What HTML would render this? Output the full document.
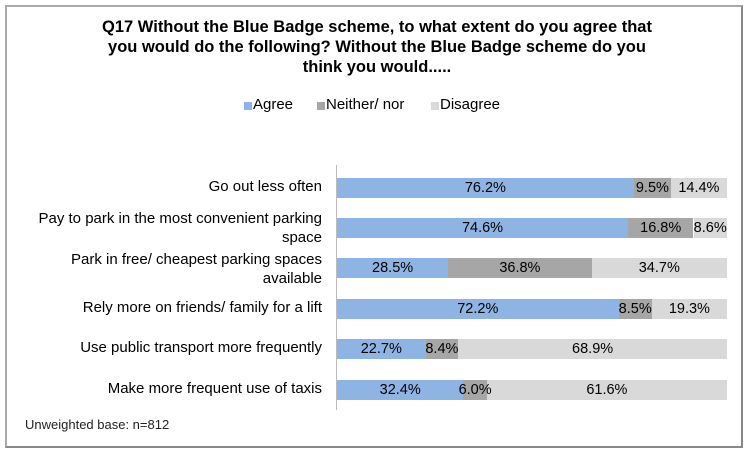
<!DOCTYPE html>
<html><head><style>
body{margin:0;width:754px;height:458px;background:#fff;font-family:"Liberation Sans",sans-serif;position:relative;overflow:hidden}
.box{position:absolute;left:5px;top:5px;width:738px;height:443px;border:2px solid #888;border-top-color:#aaa;border-left-color:#aaa;box-sizing:border-box}
.t{position:absolute;left:0;width:754px;text-align:center;font-weight:bold;font-size:16.5px;color:#000}
.lg{position:absolute;top:96px;font-size:15px}
.sq{position:absolute;width:8px;height:8px;top:102px}
.lab{position:absolute;right:432px;text-align:right;font-size:15px;line-height:19px;width:330px}
.seg{position:absolute;height:20px}
.v{position:absolute;height:20px;font-size:14.5px;line-height:20px;white-space:nowrap;transform:translateX(-50%)}
.a{background:#8eb4e3}.n{background:#a6a6a6}.d{background:#d9d9d9}
</style></head><body>
<div class="box"></div>
<div class="t" style="top:18px">Q17 Without the Blue Badge scheme, to what extent do you agree that</div>
<div class="t" style="top:38px">you would do the following? Without the Blue Badge scheme do you</div>
<div class="t" style="top:58px">think you would.....</div>
<div class="sq a" style="left:244px"></div><div class="lg" style="left:253px">Agree</div>
<div class="sq n" style="left:317px"></div><div class="lg" style="left:326px">Neither/ nor</div>
<div class="sq d" style="left:431px"></div><div class="lg" style="left:440px">Disagree</div>
<div style="position:absolute;left:336px;top:165px;width:1px;height:245px;background:#bbb"></div>
<div class="lab" style="top:177px">Go out less often</div>
<div class="lab" style="top:209px">Pay to park in the most convenient parking<br>space</div>
<div class="lab" style="top:250px">Park in free/ cheapest parking spaces<br>available</div>
<div class="lab" style="top:298px">Rely more on friends/ family for a lift</div>
<div class="lab" style="top:338px">Use public transport more frequently</div>
<div class="lab" style="top:379px">Make more frequent use of taxis</div>
<div id="bars"></div>
<div style="position:absolute;left:25px;top:417px;font-size:13px;color:#222">Unweighted base: n=812</div>
<script>
var d=[[76.2,9.5,14.4],[74.6,16.8,8.6],[28.5,36.8,34.7],[72.2,8.5,19.3],[22.7,8.4,68.9],[32.4,6.0,61.6]];
var ys=[178,218,258,299,339,380],h='',t='',W=390,X=337;
d.forEach(function(r,i){var s=r[0]+r[1]+r[2],x=X;['a','n','d'].forEach(function(c,j){var w=r[j]/s*W;h+='<div class="seg '+c+'" style="left:'+x.toFixed(1)+'px;top:'+ys[i]+'px;width:'+w.toFixed(1)+'px"></div>';t+='<div class="v" style="left:'+(x+w/2).toFixed(1)+'px;top:'+ys[i]+'px">'+r[j].toFixed(1)+'%</div>';x+=w;});});
document.getElementById('bars').innerHTML=h+t;
</script>
</body></html>
